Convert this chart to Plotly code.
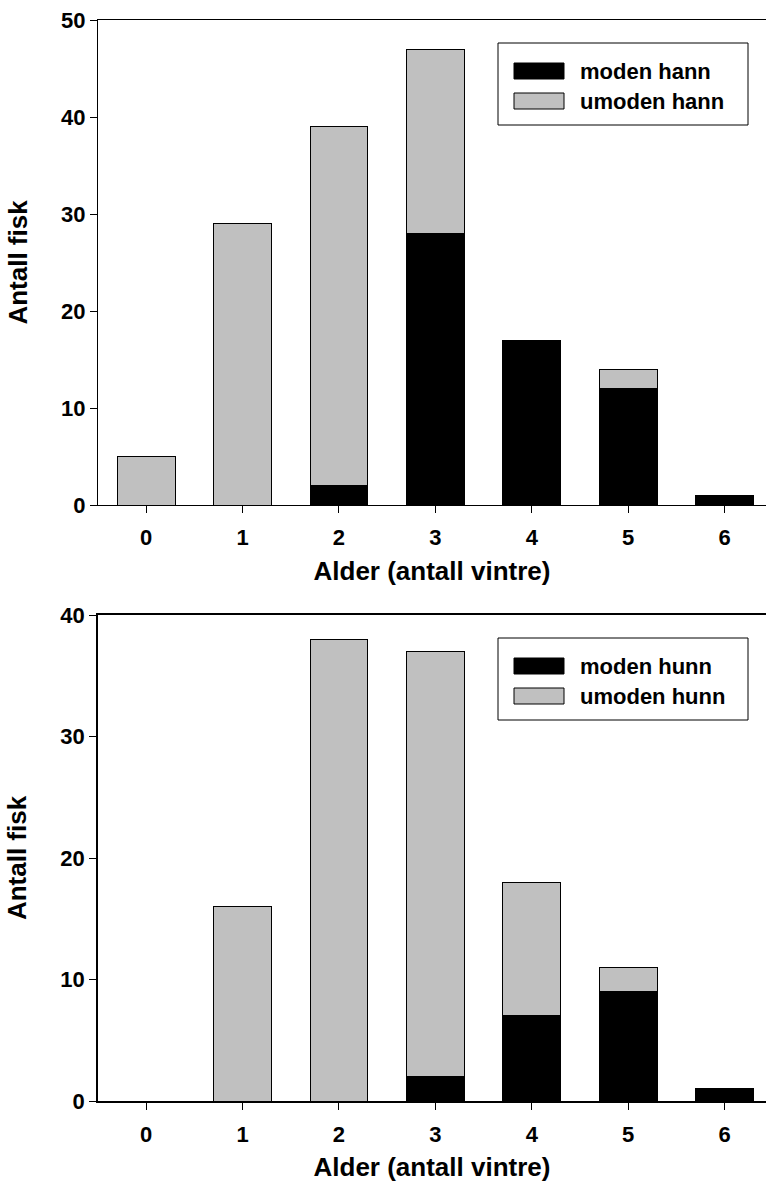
import plotly.graph_objects as go
from plotly.subplots import make_subplots

ages = [0, 1, 2, 3, 4, 5, 6]
tick_labels = ["0", "1", "2", "3", "4", "5", "6"]

moden_hann = [0, 0, 2, 28, 17, 12, 1]
umoden_hann = [5, 29, 37, 19, 0, 2, 0]

moden_hunn = [0, 0, 0, 2, 7, 9, 1]
umoden_hunn = [0, 16, 38, 35, 11, 2, 0]

W, H = 766, 1193
FONT = "Liberation Sans, Arial, sans-serif"
BLACK = "#000000"
GREY = "#c0c0c0"


def py(y):
    return 1 - y / H


def px(x):
    return x / W


fig = make_subplots(rows=2, cols=1)

panels = [
    (1, moden_hann, umoden_hann, "moden hann", "umoden hann"),
    (2, moden_hunn, umoden_hunn, "moden hunn", "umoden hunn"),
]
for row, mod, umod, n1, n2 in panels:
    fig.add_trace(go.Bar(x=ages, y=mod, name=n1, width=0.6,
                         marker=dict(color=BLACK, line=dict(color=BLACK, width=1)),
                         showlegend=False), row=row, col=1)
    fig.add_trace(go.Bar(x=ages, y=umod, name=n2, width=0.6,
                         marker=dict(color=GREY, line=dict(color=BLACK, width=1)),
                         showlegend=False), row=row, col=1)

# panel pixel geometry
x_left = 98
top_panel = (20, 505)
bot_panel = (615, 1101)

axis_common = dict(
    showgrid=False, zeroline=False, showline=True, linecolor=BLACK,
    ticks="outside", ticklen=7, tickwidth=1, tickcolor=BLACK,
    tickfont=dict(family=FONT, size=22, color=BLACK, weight="bold"),
    automargin=False,
)

for i, (ytop, ybot), ymax, lw in [(1, top_panel, 50, 1), (2, bot_panel, 40, 1.5)]:
    xa = dict(axis_common)
    xa.update(domain=[px(x_left), 1], range=[-0.5, 6.43], tickmode="array",
              tickvals=ages, ticktext=tick_labels, mirror=True, linewidth=lw,
              ticklabelstandoff=6,
              title=dict(text="Alder (antall vintre)", standoff=12,
                         font=dict(family=FONT, size=26, color=BLACK, weight="bold")))
    ya = dict(axis_common)
    ya.update(domain=[py(ybot), py(ytop)], range=[0, ymax], dtick=10, mirror=False,
              linewidth=lw,
              title=dict(text="Antall fisk", standoff=26,
                         font=dict(family=FONT, size=26, color=BLACK, weight="bold")))
    fig.update_xaxes(xa, row=i, col=1)
    fig.update_yaxes(ya, row=i, col=1)

# legends (drawn as boxes with swatches)
shapes = []
annotations = []
for ytop, (n1, n2) in [(20, ("moden hann", "umoden hann")), (615, ("moden hunn", "umoden hunn"))]:
    bx0, bx1 = 498, 748
    by0, by1 = ytop + 23, ytop + 105
    shapes.append(dict(type="rect", xref="paper", yref="paper",
                       x0=px(bx0), x1=px(bx1), y0=py(by1), y1=py(by0),
                       line=dict(color=BLACK, width=1), fillcolor="white"))
    for k, (name, col) in enumerate([(n1, BLACK), (n2, GREY)]):
        yc = ytop + 51 + 30 * k
        shapes.append(dict(type="rect", xref="paper", yref="paper",
                           x0=px(514), x1=px(564), y0=py(yc + 8), y1=py(yc - 8),
                           line=dict(color=BLACK, width=1), fillcolor=col))
        annotations.append(dict(xref="paper", yref="paper", x=px(578), y=py(yc),
                                xanchor="left", yanchor="middle", showarrow=False,
                                text=name,
                                font=dict(family=FONT, size=22, color=BLACK, weight="bold")))

fig.update_layout(
    width=W, height=H, barmode="stack",
    margin=dict(l=0, r=0, t=0, b=0),
    paper_bgcolor="white", plot_bgcolor="white",
    shapes=shapes, annotations=annotations, showlegend=False,
)

fig.write_html("out.html")
